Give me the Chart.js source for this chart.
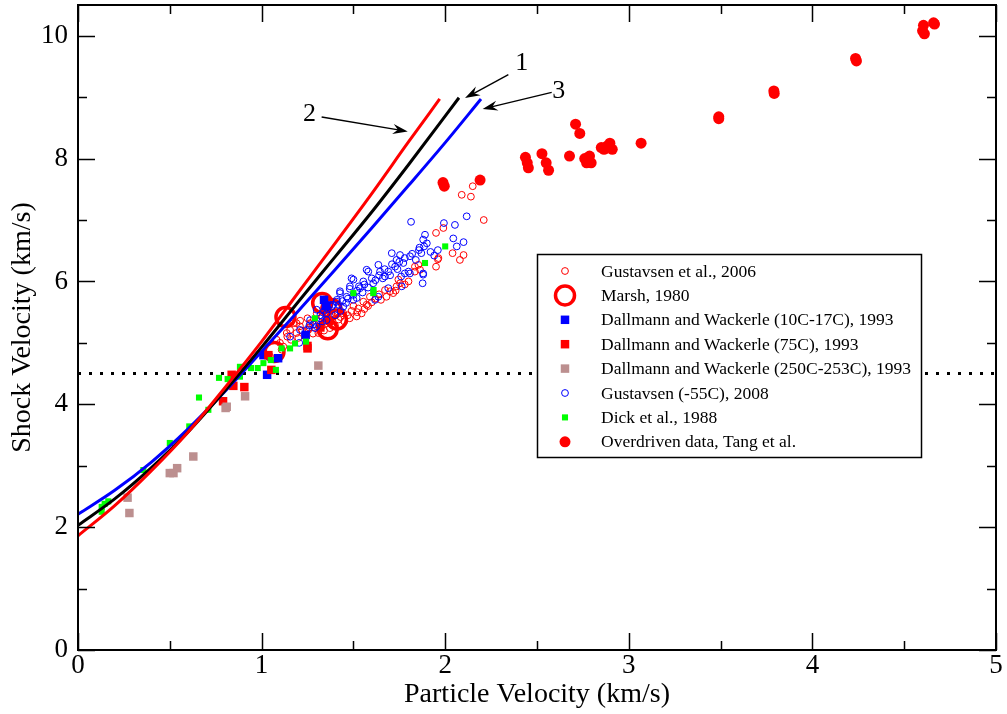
<!DOCTYPE html>
<html>
<head>
<meta charset="utf-8">
<script src="https://cdn.jsdelivr.net/npm/chart.js@4.4.0/dist/chart.umd.min.js"></script>
<style>
  html, body { margin: 0; padding: 0; background: #fff; }
  #wrap { width: 1007px; height: 714px; }
</style>
</head>
<body>
<div id="wrap"><canvas id="chart" width="1007" height="714"></canvas></div>
<script>
// --- data (particle velocity, shock velocity) in km/s ---
const gustavsen2006 = [
  [2.15,7.55],[2.09,7.41],[2.14,7.38],[2.21,7.00],[1.95,6.79],[1.99,6.87],[2.04,6.46],[2.10,6.43],
  [2.08,6.35],[1.96,6.36],[1.95,6.24],[1.835,6.24],[1.835,6.16],[1.863,6.19],[1.745,6.03],[1.754,5.97],
  [1.717,5.81],[1.70,5.84],[1.672,5.86],[1.59,5.75],[1.554,5.67],[1.572,5.62],[1.527,5.56],[1.545,5.48],
  [1.518,5.43],[1.735,5.92],[1.854,6.27],[1.963,6.38],[1.264,5.32],[1.209,5.27],[1.173,5.32],[1.137,5.16],
  [1.391,5.43],[1.445,5.48],[1.118,4.94],[1.046,4.78],[1.254,5.21],[1.327,5.27],[1.372,5.24],[1.082,5.05],
  [1.19,5.16],[1.30,5.48],[1.354,5.32],[1.19,5.32],[1.155,5.21],[1.109,4.89],[1.309,5.16],[1.42,5.38],
  [1.47,5.45],[1.49,5.52],[1.40,5.50],[1.62,5.72],[1.64,5.79],[1.36,5.40],[1.24,5.10],[1.28,5.15],
  [1.60,5.66],[1.50,5.60],[1.45,5.35],[1.33,5.42],[1.16,5.05],[1.20,5.08],[1.22,5.20],[1.26,5.25],
  [1.29,5.30],[1.31,5.35],[1.34,5.20],[1.38,5.30],[1.40,5.28],[1.43,5.42],[1.48,5.40],[1.52,5.50],
  [1.56,5.55],[1.58,5.60],[1.65,5.70],[1.68,5.75],[1.73,5.85],[1.78,5.95],[1.80,6.00],[1.10,5.00],
  [1.14,5.10],[1.21,5.36],[1.25,5.40],[1.38,5.48]
];
const marsh1980 = [[1.13,5.42],[1.07,4.85],[1.33,5.65],[1.36,5.22],[1.38,5.55],[1.41,5.38]];
const dallmann10C = [[1.01,4.80],[1.09,4.75],[1.03,4.48],[1.24,5.13],[1.34,5.70],[1.35,5.60]];
const dallmann75C = [
  [0.79,4.05],[0.846,4.30],[0.906,4.28],[0.837,4.48],[1.053,4.56],[1.25,4.91],[1.037,4.80],[1.25,4.95],
  [1.37,5.36],[1.32,5.25]
];
const dallmann250C = [
  [0.27,2.48],[0.28,2.23],[0.50,2.88],[0.52,2.88],[0.54,2.96],[0.628,3.15],[0.804,3.94],[0.81,3.96],
  [0.91,4.13],[1.309,4.63]
];
const gustavsen2008 = [
  [1.814,6.97],[1.993,6.95],[2.053,6.92],[2.117,7.06],[1.89,6.76],[1.88,6.68],[1.885,6.57],[1.857,6.51],
  [1.87,6.46],[2.044,6.70],[2.10,6.64],[2.063,6.57],[1.96,6.51],[1.709,6.46],[1.754,6.43],[1.808,6.41],
  [1.735,6.35],[1.772,6.30],[1.727,6.24],[1.636,6.27],[1.581,6.16],[1.645,6.16],[1.69,6.16],[1.672,6.08],
  [1.80,6.16],[1.88,6.13],[1.877,5.97],[1.50,6.03],[1.554,6.00],[1.608,5.97],[1.536,5.89],[1.481,5.92],
  [1.427,5.81],[1.463,5.75],[1.518,5.73],[1.409,5.67],[1.445,5.59],[1.382,5.59],[1.354,5.48],[1.318,5.40],
  [1.264,5.37],[1.30,5.27],[1.245,5.21],[1.69,5.89],[1.763,5.92],[1.88,6.11],[1.808,6.13],[1.78,6.13],
  [1.209,5.21],[1.155,5.10],[1.205,5.00],[1.236,5.13],[1.30,5.54],[1.354,5.37],[1.427,5.84],[1.49,6.05],
  [1.572,6.19],[1.636,5.75],[1.618,5.70],[1.29,5.24],[1.34,5.52],[1.37,5.62],[1.40,5.45],[1.43,5.52],
  [1.46,5.65],[1.50,5.78],[1.55,5.82],[1.58,5.90],[1.62,6.02],[1.66,6.05],[1.70,6.10],[1.74,6.20],
  [1.76,6.08],[1.84,6.35],[1.92,6.48],[1.94,6.42],[1.32,5.45],[1.36,5.55],[1.39,5.62],[1.41,5.70],
  [1.44,5.68],[1.47,5.72],[1.50,5.70],[1.52,5.85],[1.56,5.95],[1.60,6.05],[1.64,6.10],[1.67,6.20],
  [1.71,6.28],[1.75,6.32],[1.78,6.38],[1.82,6.45],[1.86,6.55],[1.90,6.62],[1.28,5.30],[1.33,5.35],
  [1.26,5.28],[1.42,5.62],[1.48,5.88],[1.53,5.92]
];
const dick1988 = [
  [0.129,2.33],[0.129,2.25],[0.165,2.42],[0.145,2.38],[0.356,2.93],[0.50,3.37],[0.606,3.64],[0.659,4.11],
  [0.71,3.91],[0.768,4.43],[0.815,4.41],[0.882,4.45],[0.882,4.61],[0.942,4.59],[0.979,4.59],[1.01,4.67],
  [1.05,4.72],[1.078,4.56],[1.109,4.91],[1.155,4.91],[1.182,4.99],[1.242,5.02],[1.29,5.40],[1.89,6.30],
  [2.0,6.57],[1.608,5.81],[1.61,5.86],[1.50,5.81]
];
const overdrivenTang = [
  [1.988,7.61],[1.995,7.55],[2.19,7.65],[2.437,8.02],[2.447,7.93],[2.453,7.85],[2.527,8.08],[2.55,7.93],
  [2.563,7.81],[2.677,8.04],[2.71,8.56],[2.733,8.41],[2.76,8.00],[2.786,8.04],[2.795,7.93],[2.77,7.93],
  [2.85,8.18],[2.88,8.20],[2.897,8.25],[2.91,8.15],[2.865,8.15],[3.067,8.25],[3.49,8.68],[3.49,8.65],
  [3.79,9.10],[3.792,9.06],[4.235,9.63],[4.24,9.59],[4.605,10.17],[4.61,10.03],[4.60,10.08],[4.66,10.21],
  [4.665,10.19]
];
// hugoniot curves 1 (black), 2 (red), 3 (blue)
const curve1 = [[0,2.03],[0.2,2.46],[0.4,2.97],[0.6,3.55],[0.8,4.22],[1.0,4.93],[1.2,5.67],[1.4,6.40],[1.6,7.13],[1.8,7.90],[2.075,8.99]];
const curve2 = [[0,1.86],[0.2,2.35],[0.4,2.92],[0.6,3.55],[0.8,4.27],[1.0,5.02],[1.2,5.82],[1.4,6.62],[1.6,7.43],[1.8,8.27],[1.97,8.97]];
const curve3 = [[0,2.21],[0.2,2.60],[0.4,3.06],[0.6,3.60],[0.8,4.21],[1.0,4.86],[1.2,5.52],[1.4,6.19],[1.6,6.87],[1.8,7.56],[2.0,8.26],[2.195,8.97]];
const dottedLevel = [[0,4.5],[5,4.5]];

const xTicks = [0,1,2,3,4,5];
const yTicks = [0,2,4,6,8,10];

// arrow annotations: label, label position, arrow start, arrow tip (data units)
const arrowLabels = ["1", "2", "3"];
const arrowText = [[2.417,9.555],[1.261,8.718],[2.619,9.093]];
const arrowFrom = [[2.344,9.365],[1.327,8.676],[2.58,9.077]];
const arrowTo = [[2.108,8.985],[1.796,8.441],[2.204,8.806]];

const pts = arr => arr.map(p => ({ x: p[0], y: p[1] }));
const serif = "'Liberation Serif', 'Times New Roman', serif";

function scatterSet(label, data, style, order) {
  return Object.assign({ label, data: pts(data), showLine: false, order }, style);
}

const datasets = [
  scatterSet("Gustavsen et al., 2006", gustavsen2006,
    { pointStyle: "circle", pointRadius: 3.4, borderWidth: 1, borderColor: "#ff0000", backgroundColor: "rgba(0,0,0,0)" }, 9),
  scatterSet("Marsh, 1980", marsh1980,
    { pointStyle: "circle", pointRadius: 9.5, borderWidth: 3.5, borderColor: "#ff0000", backgroundColor: "rgba(0,0,0,0)" }, 8),
  scatterSet("Dallmann and Wackerle (10C-17C), 1993", dallmann10C,
    { pointStyle: "rect", pointRadius: 6, borderWidth: 0, borderColor: "#0000ff", backgroundColor: "#0000ff" }, 7),
  scatterSet("Dallmann and Wackerle (75C), 1993", dallmann75C,
    { pointStyle: "rect", pointRadius: 6, borderWidth: 0, borderColor: "#ff0000", backgroundColor: "#ff0000" }, 6),
  scatterSet("Dallmann and Wackerle (250C-253C), 1993", dallmann250C,
    { pointStyle: "rect", pointRadius: 6, borderWidth: 0, borderColor: "#bc8f8f", backgroundColor: "#bc8f8f" }, 5),
  scatterSet("Gustavsen (-55C), 2008", gustavsen2008,
    { pointStyle: "circle", pointRadius: 3.4, borderWidth: 1, borderColor: "#0000ff", backgroundColor: "rgba(0,0,0,0)" }, 4),
  scatterSet("Dick et al., 1988", dick1988,
    { pointStyle: "rect", pointRadius: 4.3, borderWidth: 0, borderColor: "#00ff00", backgroundColor: "#00ff00" }, 3),
  scatterSet("Overdriven data, Tang et al.", overdrivenTang,
    { pointStyle: "circle", pointRadius: 5.5, borderWidth: 0, borderColor: "#ff0000", backgroundColor: "#ff0000" }, 2),
];

const lineSet = (data, color, extra) => Object.assign({
  data: pts(data), showLine: true, pointRadius: 0, borderColor: color, borderWidth: 3,
  cubicInterpolationMode: "monotone", fill: false, noLegend: true, order: 1
}, extra || {});

datasets.push(lineSet(dottedLevel, "#000", { borderDash: [3, 8], borderWidth: 3, order: 10, cubicInterpolationMode: "default" }));
datasets.push(lineSet(curve2, "#ff0000"));
datasets.push(lineSet(curve1, "#000000"));
datasets.push(lineSet(curve3, "#0000ff"));

// frame + inward ticks on all four sides
const frameTicks = {
  id: "frameTicks",
  afterDatasetsDraw(chart) {
    const { ctx, chartArea: a, scales: { x, y } } = chart;
    ctx.save();
    ctx.strokeStyle = "#000";
    ctx.lineWidth = 1.5;
    ctx.beginPath();
    for (let v = 0; v <= 5.0001; v += 0.5) {
      const px = Math.round(x.getPixelForValue(v)) + 0.5;
      const len = Math.abs(v - Math.round(v)) < 1e-6 ? 17 : 9;
      ctx.moveTo(px, a.bottom); ctx.lineTo(px, a.bottom - len);
      ctx.moveTo(px, a.top); ctx.lineTo(px, a.top + len);
    }
    for (let v = 0; v <= 10; v += 1) {
      const py = Math.round(y.getPixelForValue(v)) + 0.5;
      const len = v % 2 === 0 ? 17 : 9;
      ctx.moveTo(a.left, py); ctx.lineTo(a.left + len, py);
      ctx.moveTo(a.right, py); ctx.lineTo(a.right - len, py);
    }
    ctx.stroke();
    ctx.lineWidth = 2;
    ctx.strokeRect(a.left, a.top, a.right - a.left, a.bottom - a.top);
    ctx.restore();
  }
};

// numbered arrows pointing at the curves
const arrows = {
  id: "arrows",
  afterDatasetsDraw(chart) {
    const { ctx, scales: { x, y } } = chart;
    ctx.save();
    ctx.strokeStyle = "#000";
    ctx.fillStyle = "#000";
    ctx.lineWidth = 1.4;
    arrowLabels.forEach((lab, i) => {
      const x1 = x.getPixelForValue(arrowFrom[i][0]), y1 = y.getPixelForValue(arrowFrom[i][1]);
      const x2 = x.getPixelForValue(arrowTo[i][0]), y2 = y.getPixelForValue(arrowTo[i][1]);
      const ang = Math.atan2(y2 - y1, x2 - x1);
      const hl = 15, hw = 5;
      const bx = x2 - hl * Math.cos(ang), by = y2 - hl * Math.sin(ang);
      ctx.beginPath();
      ctx.moveTo(x1, y1);
      ctx.lineTo(x2 - 8 * Math.cos(ang), y2 - 8 * Math.sin(ang));
      ctx.stroke();
      ctx.beginPath();
      ctx.moveTo(x2, y2);
      ctx.lineTo(bx - hw * Math.sin(ang), by + hw * Math.cos(ang));
      ctx.lineTo(x2 - 10 * Math.cos(ang), y2 - 10 * Math.sin(ang));
      ctx.lineTo(bx + hw * Math.sin(ang), by - hw * Math.cos(ang));
      ctx.closePath();
      ctx.fill();
      ctx.font = "26px " + serif;
      ctx.textAlign = "center";
      ctx.textBaseline = "middle";
      ctx.fillText(lab, x.getPixelForValue(arrowText[i][0]), y.getPixelForValue(arrowText[i][1]));
    });
    ctx.restore();
  }
};

// boxed legend inside the plot
const boxLegend = {
  id: "boxLegend",
  afterDraw(chart) {
    const { ctx } = chart;
    const left = 537, top = 254, w = 384, h = 203;
    ctx.save();
    ctx.fillStyle = "#fff";
    ctx.fillRect(left, top, w, h);
    ctx.strokeStyle = "#000";
    ctx.lineWidth = 1.5;
    ctx.strokeRect(left + 0.5, top + 0.5, w, h);
    ctx.font = "17.5px " + serif;
    ctx.textBaseline = "middle";
    ctx.textAlign = "left";
    let row = 0;
    chart.data.datasets.forEach(ds => {
      if (ds.noLegend) return;
      const cy = top + 17 + row * 24.4;
      const cx = left + 28;
      ctx.fillStyle = ds.backgroundColor;
      ctx.strokeStyle = ds.borderColor;
      ctx.lineWidth = ds.borderWidth;
      Chart.helpers.drawPoint(ctx, { pointStyle: ds.pointStyle, radius: ds.pointRadius, borderWidth: ds.borderWidth, rotation: 0 }, cx, cy);
      ctx.fillStyle = "#000";
      ctx.fillText(ds.label, left + 64, cy + 1);
      row++;
    });
    ctx.restore();
  }
};

new Chart(document.getElementById("chart"), {
  type: "scatter",
  data: { datasets },
  options: {
    responsive: false,
    animation: false,
    events: [],
    layout: { autoPadding: false, padding: { top: 5, right: 11, left: 0, bottom: 0 } },
    plugins: { legend: { display: false }, tooltip: { enabled: false } },
    scales: {
      x: {
        type: "linear", min: 0, max: 5,
        afterFit: s => { s.height = 64; s.paddingLeft = 0; s.paddingRight = 0; },
        afterBuildTicks: s => { s.ticks = xTicks.map(v => ({ value: v })); },
        grid: { display: false, drawTicks: false },
        border: { display: false },
        ticks: { color: "#000", font: { family: serif, size: 27 }, padding: 0, maxRotation: 0 },
        title: { display: true, text: "Particle Velocity (km/s)", color: "#000", font: { family: serif, size: 28 }, padding: { top: 0, bottom: 3 } }
      },
      y: {
        type: "linear", min: 0, max: 10.5,
        afterFit: s => { s.width = 78; s.paddingTop = 0; s.paddingBottom = 0; },
        afterBuildTicks: s => { s.ticks = yTicks.map(v => ({ value: v })); },
        grid: { display: false, drawTicks: false },
        border: { display: false },
        ticks: { color: "#000", font: { family: serif, size: 27 }, padding: 10 },
        title: { display: true, text: "Shock Velocity (km/s)", color: "#000", font: { family: serif, size: 28 }, padding: { top: 6, bottom: 0 } }
      }
    }
  },
  plugins: [frameTicks, arrows, boxLegend]
});
</script>
</body>
</html>
